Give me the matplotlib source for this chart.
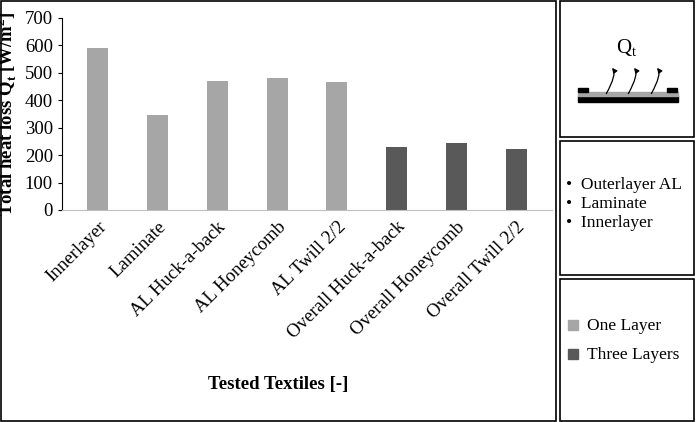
import numpy as np
import matplotlib.pyplot as plt
from matplotlib.patches import Rectangle, FancyArrowPatch

plt.rcParams['font.family'] = 'Liberation Serif'

textiles = ['Innerlayer', 'Laminate', 'AL Huck-a-back', 'AL Honeycomb', 'AL Twill 2/2',
            'Overall Huck-a-back', 'Overall Honeycomb', 'Overall Twill 2/2']
heat_loss = [590, 347, 472, 483, 465, 229, 245, 221]
layers = ['one', 'one', 'one', 'one', 'one', 'three', 'three', 'three']
layer_colors = {'one': '#a6a6a6', 'three': '#595959'}

W, H = 696, 422
fig = plt.figure(figsize=(W / 100, H / 100), dpi=100)

def frac(x0, y0, x1, y1):
    return [x0 / W, 1 - y1 / H, (x1 - x0) / W, (y1 - y0) / H]

# frames
frame = fig.add_axes([0, 0, 1, 1])
frame.set_xlim(0, W)
frame.set_ylim(H, 0)
frame.axis('off')
for x0, y0, x1, y1 in [(1, 1, 556, 421), (560, 1, 694, 137), (560, 141, 694, 275), (560, 279, 694, 421)]:
    frame.add_patch(Rectangle((x0, y0), x1 - x0, y1 - y0, fill=False, lw=1.2, ec='black'))

# main chart
ax = fig.add_axes(frac(62, 18, 552, 210))
x = np.arange(len(textiles))
ax.bar(x, heat_loss, width=0.35, color=[layer_colors[l] for l in layers])
ax.set_ylim(0, 700)
ax.set_yticks(range(0, 701, 100))
ax.set_xlim(-0.6, len(textiles) - 0.4)
ax.set_xticks(x)
ax.set_xticklabels(textiles, rotation=45, ha='right', rotation_mode='anchor', fontsize=13.5)
ax.tick_params(axis='y', labelsize=13.5, length=3)
ax.tick_params(axis='x', length=0, pad=6)
for s in ['top', 'right']:
    ax.spines[s].set_visible(False)
ax.spines['bottom'].set_color('#bfbfbf')
ax.set_ylabel('Total heat loss Q$_\\mathregular{t}$ [W/m$^\\mathregular{2}$]', fontsize=13.5, fontweight='bold')
fig.text(278 / W, 1 - 385 / H, 'Tested Textiles [-]', ha='center', va='center', fontsize=13.5, fontweight='bold')

# icon box
frame.text(627, 48, 'Q$_\\mathregular{t}$', ha='center', va='center', fontsize=15)
frame.add_patch(Rectangle((578, 96), 100, 6, color='black'))
frame.add_patch(Rectangle((578, 92), 100, 4, color='#a6a6a6'))
frame.add_patch(Rectangle((578, 88), 10, 4, color='black'))
frame.add_patch(Rectangle((667, 88), 10, 4, color='black'))
for cx in [605, 627, 650]:
    frame.add_patch(FancyArrowPatch((cx, 96), (cx + 5, 66), connectionstyle='angle3,angleA=60,angleB=150',
                                    arrowstyle='-|>', mutation_scale=7, lw=0.9, color='black'))

# layers box
for i, t in enumerate(['Outerlayer AL', 'Laminate', 'Innerlayer']):
    frame.text(566, 185 + i * 19, '\u2022  ' + t, ha='left', va='center', fontsize=12.5)

# legend box
frame.add_patch(Rectangle((568, 320), 10, 10, color=layer_colors['one']))
frame.text(587, 326, 'One Layer', ha='left', va='center', fontsize=12.5)
frame.add_patch(Rectangle((568, 349), 10, 10, color=layer_colors['three']))
frame.text(587, 355, 'Three Layers', ha='left', va='center', fontsize=12.5)

fig.savefig('out.png', dpi=100)
